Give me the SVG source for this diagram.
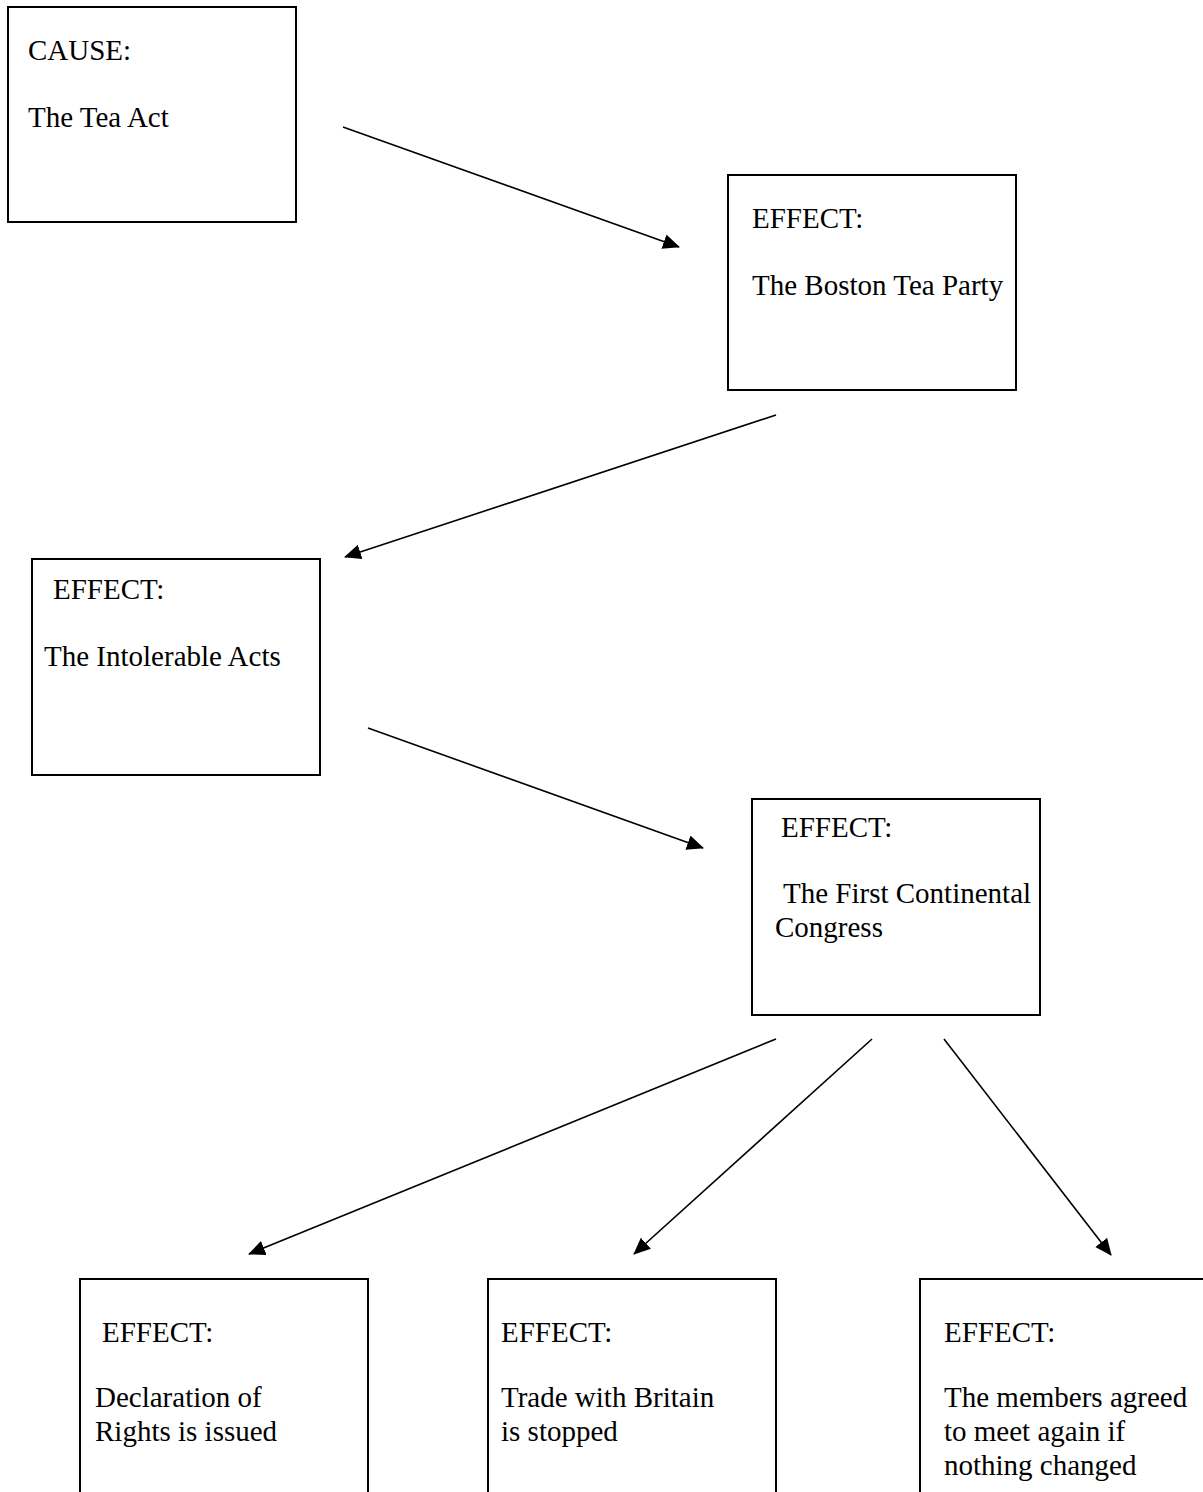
<svg xmlns="http://www.w3.org/2000/svg" width="1203" height="1492" viewBox="0 0 1203 1492">
<style>
.box{fill:#fff;stroke:#000;stroke-width:2}
text{font-family:"Liberation Serif","Times New Roman",serif;font-size:29px;fill:#000}
.conn{stroke:#000;stroke-width:1.6;fill:none;marker-end:url(#ah)}
</style>
<defs>
<marker id="ah" markerUnits="userSpaceOnUse" markerWidth="18" markerHeight="16" refX="16" refY="7.5" orient="auto">
<path d="M0,0 L17,7.5 L0,15 Z" fill="#000"/>
</marker>
</defs>
<rect width="1203" height="1492" fill="#fff"/>
<g id="connectors">
<line class="conn" x1="343" y1="127" x2="679" y2="247"/>
<line class="conn" x1="776" y1="415" x2="345" y2="557"/>
<line class="conn" x1="368" y1="728" x2="703" y2="848"/>
<line class="conn" x1="776" y1="1039" x2="249" y2="1254"/>
<line class="conn" x1="872" y1="1039" x2="634" y2="1254"/>
<line class="conn" x1="944" y1="1039" x2="1111" y2="1255"/>
</g>
<g id="cause">
<rect class="box" x="8" y="7" width="288" height="215"/>
<text x="28" y="60">CAUSE:</text>
<text x="28" y="127">The Tea Act</text>
</g>
<g id="boston">
<rect class="box" x="728" y="175" width="288" height="215"/>
<text x="752" y="228">EFFECT:</text>
<text x="752" y="295">The Boston Tea Party</text>
</g>
<g id="intolerable">
<rect class="box" x="32" y="559" width="288" height="216"/>
<text x="53" y="599">EFFECT:</text>
<text x="44" y="666">The Intolerable Acts</text>
</g>
<g id="congress">
<rect class="box" x="752" y="799" width="288" height="216"/>
<text x="781" y="837">EFFECT:</text>
<text x="783" y="903">The First Continental</text>
<text x="775" y="937">Congress</text>
</g>
<g id="declaration">
<rect class="box" x="80" y="1279" width="288" height="230"/>
<text x="102" y="1342">EFFECT:</text>
<text x="95" y="1407">Declaration of</text>
<text x="95" y="1441">Rights is issued</text>
</g>
<g id="trade">
<rect class="box" x="488" y="1279" width="288" height="230"/>
<text x="501" y="1342">EFFECT:</text>
<text x="501" y="1407">Trade with Britain</text>
<text x="501" y="1441">is stopped</text>
</g>
<g id="members">
<rect class="box" x="920" y="1279" width="300" height="230"/>
<text x="944" y="1342">EFFECT:</text>
<text x="944" y="1407">The members agreed</text>
<text x="944" y="1441">to meet again if</text>
<text x="944" y="1475">nothing changed</text>
</g>
</svg>
